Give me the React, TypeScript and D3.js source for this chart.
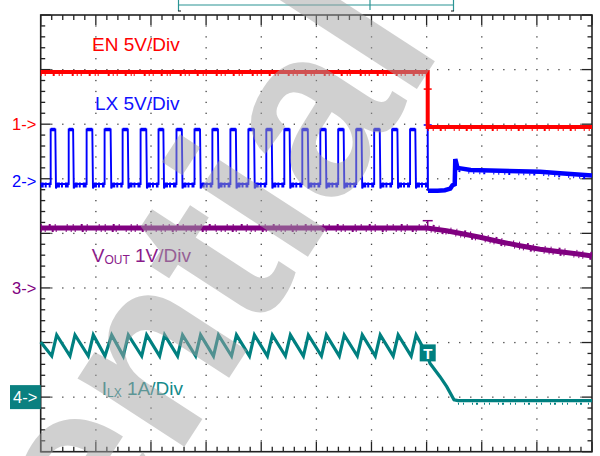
import React from "react";
import * as d3 from "d3";

// ---------- data (time in divisions 0..10, level in divisions, centre = 0) ----------
const X_DIVS = 10;
const Y_DIVS = 8;
const SUB = 5;

const enTrace: [number, number][] = [
  [0, 2.955],
  [7.02, 2.955],
  [7.02, 1.949],
  [10, 1.949],
];

const lxRise = [
  0.181, 0.508, 0.833, 1.159, 1.486, 1.812, 2.137, 2.463, 2.79, 3.114, 3.441,
  3.767, 4.092, 4.419, 4.745, 5.072, 5.396, 5.723, 6.049, 6.374, 6.7,
];
const lxFall = [
  0.265, 0.588, 0.936, 1.268, 1.58, 1.915, 2.225, 2.56, 2.89, 3.215, 3.54,
  3.87, 4.19, 4.515, 4.845, 5.17, 5.495, 5.82, 6.15, 6.47, 6.795,
];
const lxHigh = 1.902;
const lxLow = 0.904;
const lxLastRise = 7.02;
const lxPost: [number, number][] = [
  [7.025, 0.78],
  [7.2, 0.78],
  [7.33, 0.79],
  [7.43, 0.82],
  [7.47, 0.88],
  [7.51, 0.9],
  [7.52, 1.36],
  [7.56, 1.2],
  [7.8, 1.16],
  [9.06, 1.13],
  [9.42, 1.1],
  [10, 1.06],
];

const voutTrace: [number, number][] = [
  [0, 0.098],
  [7.007, 0.098],
  [7.36, 0.049],
  [7.6, 0.001],
  [7.968, -0.072],
  [8.331, -0.153],
  [8.694, -0.226],
  [9.056, -0.292],
  [9.419, -0.336],
  [9.782, -0.384],
  [10, -0.415],
];

const ilxStart: [number, number] = [0, -1.99];
const ilxValleyT = [
  0.2, 0.531, 0.863, 1.166, 1.498, 1.832, 2.157, 2.483, 2.81, 3.134, 3.461,
  3.787, 4.112, 4.439, 4.765, 5.092, 5.416, 5.743, 6.069, 6.394, 6.72,
];
const ilxPeakT = [
  0.29, 0.622, 0.954, 1.288, 1.589, 1.922, 2.247, 2.573, 2.9, 3.224, 3.551,
  3.877, 4.202, 4.529, 4.855, 5.182, 5.506, 5.833, 6.159, 6.484, 6.81,
];
const ilxPeak = -1.862;
const ilxValley = -2.247;
const ilxPost: [number, number][] = [
  [7.02, -2.25],
  [7.06, -2.38],
  [7.243, -2.626],
  [7.365, -2.809],
  [7.497, -3.05],
  [7.569, -3.065],
  [10, -3.065],
];

const trigT = 7.02;
const enTrigLevel = 2.643;
const lxTrigLevel = 1.985;
const voutTrigLevel = 0.232;
const ilxTrigLevel = -2.19;

const channelMarkers = [
  { label: "1->", level: 2.0, color: "#ff0000", box: false },
  { label: "2->", level: 0.96, color: "#0000ff", box: false },
  { label: "3->", level: -1.0, color: "#800080", box: false },
  { label: "4->", level: -3.0, color: "#0a8080", box: true },
];

const watermarkText = "Confidential";

// ---------- layout ----------
const W = 600;
const H = 456;
const L = 40.7;
const R = 592;
const T = 15;
const B = 451.7;

const x = d3.scaleLinear().domain([0, X_DIVS]).range([L, R]);
const y = d3.scaleLinear().domain([Y_DIVS / 2, -Y_DIVS / 2]).range([T, B]);
const line = d3
  .line<[number, number]>()
  .x((d) => x(d[0]))
  .y((d) => y(d[1]));

const RED = "#ff0000";
const BLUE = "#0000ff";
const PURPLE = "#800080";
const TEAL = "#008080";
const FONT = "'Liberation Sans', Arial, sans-serif";

function lxPoints(): [number, number][] {
  const pts: [number, number][] = [[0, lxLow]];
  lxRise.forEach((r, k) => {
    const f = lxFall[k];
    pts.push([r, lxLow], [r, lxHigh], [f, lxHigh], [f + 0.012, lxLow - 0.08], [f + 0.04, lxLow]);
  });
  pts.push([lxLastRise, lxLow], [lxLastRise, lxHigh + 0.04], [lxLastRise + 0.005, lxPost[0][1]]);
  return pts;
}

function ilxPoints(): [number, number][] {
  const pts: [number, number][] = [ilxStart];
  ilxValleyT.forEach((v, k) => {
    pts.push([v, ilxValley], [ilxPeakT[k], ilxPeak]);
  });
  return pts.concat(ilxPost);
}

export default function App() {
  const minorX = d3.range(0, X_DIVS * SUB + 1);
  const minorY = d3.range(0, Y_DIVS * SUB + 1);

  const dots: JSX.Element[] = [];
  for (let i = 1; i < X_DIVS; i++) {
    for (let j = 1; j < Y_DIVS * SUB; j++) {
      dots.push(
        <rect key={`v${i}-${j}`} x={x(i) - 0.6} y={y(Y_DIVS / 2 - j / SUB) - 0.6} width={1.3} height={1.3} fill="#444" />
      );
    }
  }
  for (let j = 1; j < Y_DIVS; j++) {
    for (let i = 1; i < X_DIVS * SUB; i++) {
      if (i % SUB === 0) continue;
      dots.push(
        <rect key={`h${j}-${i}`} x={x(i / SUB) - 0.6} y={y(Y_DIVS / 2 - j) - 0.6} width={1.3} height={1.3} fill="#444" />
      );
    }
  }

  const lowSegs: [number, number][][] = [];
  lowSegs.push([[0, lxLow], [lxRise[0], lxLow]]);
  lxRise.forEach((r, k) => {
    const next = k + 1 < lxRise.length ? lxRise[k + 1] : lxLastRise;
    lowSegs.push([[lxFall[k] + 0.03, lxLow], [next, lxLow]]);
  });

  return (
    <svg width={W} height={H} style={{ position: "absolute", left: 0, top: 0, background: "#fff" }}>
      {/* top bracket */}
      <g stroke="#2a9494" strokeWidth={1.2} fill="none">
        <line x1={178} y1={5} x2={454} y2={5} />
        <line x1={178.5} y1={0} x2={178.5} y2={11} />
        <line x1={453.5} y1={0} x2={453.5} y2={11} />
        <line x1={370} y1={0} x2={370} y2={10} />
      </g>
      <g stroke="#111" strokeWidth={1}>
        <line x1={178} y1={11} x2={181} y2={11} />
        <line x1={451} y1={11} x2={454} y2={11} />
      </g>

      {/* grid dots */}
      <g>{dots}</g>

      {/* frame + ticks */}
      <g stroke="#222" strokeWidth={1.3}>
        <rect x={L} y={T} width={R - L} height={B - T} fill="none" strokeWidth={1.6} />
        {minorX.map((i) => {
          const len = i % SUB === 0 ? 10 : 5;
          const xx = x(i / SUB);
          return (
            <g key={`tx${i}`}>
              <line x1={xx} y1={T} x2={xx} y2={T + len} />
              <line x1={xx} y1={B} x2={xx} y2={B - len} />
            </g>
          );
        })}
        {minorY.map((j) => {
          const len = j % SUB === 0 ? 10 : 4.5;
          const yy = y(Y_DIVS / 2 - j / SUB);
          return (
            <g key={`ty${j}`}>
              <line x1={L} y1={yy} x2={L + len} y2={yy} />
              <line x1={R} y1={yy} x2={R - len} y2={yy} />
            </g>
          );
        })}
      </g>

      {/* labels */}
      <g fontFamily={FONT} fontSize={19}>
        <text x={92} y={51} fill={RED}>EN 5V/Div</text>
        <text x={95} y={110} fill="#1010ff">LX 5V/Div</text>
        <text x={91.7} y={262} fill="#8a1a8a">
          V<tspan fontSize={12} dy={2}>OUT</tspan>
          <tspan dy={-2}> 1V/Div</tspan>
        </text>
        <text x={101.7} y={395} fill="#158a8a">
          I<tspan fontSize={12} dy={2}>LX</tspan>
          <tspan dy={-2}> 1A/Div</tspan>
        </text>
      </g>

      {/* channel markers */}
      <g fontFamily={FONT} fontSize={16.5}>
        {channelMarkers.map((m) =>
          m.box ? (
            <g key={m.label}>
              <rect x={10} y={y(m.level) - 12} width={L - 10} height={24} fill={m.color} />
              <text x={13} y={y(m.level) + 6} fill="#fff">{m.label}</text>
            </g>
          ) : (
            <text key={m.label} x={12} y={y(m.level) + 6} fill={m.color}>{m.label}</text>
          )
        )}
      </g>

      {/* VOUT */}
      <path d={line(voutTrace) ?? ""} fill="none" stroke={PURPLE} strokeWidth={5} />
      <path d={line(voutTrace) ?? ""} fill="none" stroke={PURPLE} strokeWidth={2} transform="translate(0,3)" strokeDasharray="1 3 1 6 2 2 1 9 1 4" />
      <path d={line(voutTrace) ?? ""} fill="none" stroke={PURPLE} strokeWidth={2} transform="translate(0,-3)" strokeDasharray="1 7 2 4 1 11 1 5" />
      <g stroke={PURPLE} strokeWidth={1.5}>
        <line x1={x(trigT) - 5} y1={y(voutTrigLevel)} x2={x(trigT) + 5} y2={y(voutTrigLevel)} />
        <line x1={x(trigT)} y1={y(voutTrigLevel)} x2={x(trigT)} y2={y(voutTrace[1][1])} />
      </g>

      {/* ILX */}
      <path d={line(ilxPoints()) ?? ""} fill="none" stroke={TEAL} strokeWidth={3.2} strokeLinejoin="miter" />
      <path d={line(ilxPost.slice(5)) ?? ""} fill="none" stroke={TEAL} strokeWidth={2} transform="translate(0,3)" strokeDasharray="1 4 1 8 1 3 2 6" />
      <rect x={x(trigT) - 8} y={y(ilxTrigLevel) - 8.5} width={16} height={17} fill={TEAL} />
      <text x={x(trigT)} y={y(ilxTrigLevel) + 6} fill="#fff" fontFamily={FONT} fontWeight="bold" fontSize={15} textAnchor="middle">T</text>

      {/* LX */}
      <path d={line(lxPoints()) ?? ""} fill="none" stroke={BLUE} strokeWidth={1.9} />
      {lowSegs.map((s, i) => (
        <path key={`ls${i}`} d={line(s) ?? ""} fill="none" stroke={BLUE} strokeWidth={5} strokeDasharray="3 1 2 2 4 1 1 3" transform="translate(0,1)" />
      ))}
      {lxRise.map((r, k) => (
        <path key={`hs${k}`} d={line([[r, lxHigh], [lxFall[k], lxHigh]]) ?? ""} fill="none" stroke={BLUE} strokeWidth={3.5} />
      ))}
      <path d={line(lxPost) ?? ""} fill="none" stroke={BLUE} strokeWidth={4.5} />
      <path d={line(lxPost.slice(6)) ?? ""} fill="none" stroke={BLUE} strokeWidth={2} transform="translate(0,3)" strokeDasharray="1 5 1 3 2 8 1 4" />
      <line x1={x(trigT) - 4} y1={y(lxTrigLevel)} x2={x(trigT) + 4} y2={y(lxTrigLevel)} stroke={BLUE} strokeWidth={1.5} />

      {/* EN */}
      <path d={line(enTrace) ?? ""} fill="none" stroke={RED} strokeWidth={4} />
      <path d={line([enTrace[0], enTrace[1]]) ?? ""} fill="none" stroke={RED} strokeWidth={2} transform="translate(0,3)" strokeDasharray="1 3 1 7 2 4 1 2 1 9 2 3" />
      <path d={line([enTrace[2], enTrace[3]]) ?? ""} fill="none" stroke={RED} strokeWidth={2} transform="translate(0,3)" strokeDasharray="1 4 1 6 2 3 1 8" />
      <line x1={x(trigT) - 4} y1={y(enTrigLevel)} x2={x(trigT) + 4} y2={y(enTrigLevel)} stroke={RED} strokeWidth={1.5} />

      {/* watermark */}
      <text
        transform="translate(444,47) rotate(-57)"
        textAnchor="end"
        fontFamily={FONT}
        fontWeight="bold"
        fontSize={240}
        fill="#a2a2a2"
        opacity={0.5}
      >
        {watermarkText}
      </text>
    </svg>
  );
}
